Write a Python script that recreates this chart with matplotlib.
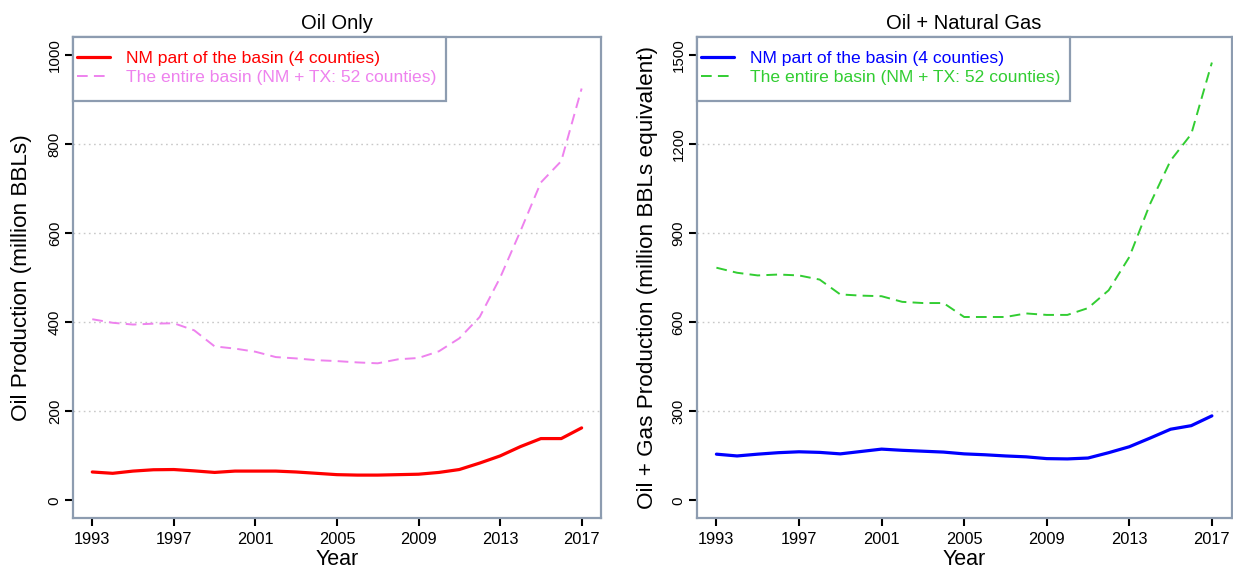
import matplotlib
matplotlib.use("Agg")
import matplotlib.pyplot as plt
import matplotlib.transforms as mtransforms
from matplotlib.patches import Rectangle

plt.rcParams['font.family'] = ['Liberation Sans', 'DejaVu Sans']

years = list(range(1993, 2018))

oil_nm = [64, 61, 66, 69, 69.5, 66.5, 63, 66, 66, 66, 64, 61, 58, 57, 57, 58, 59, 63, 69.5, 84, 100, 121, 139, 139, 163]
oil_all = [407, 399, 395, 397, 398, 382, 346, 341, 334, 322, 319, 315, 313, 310, 308, 317, 320, 335, 364, 412, 500, 605, 714, 762, 925]

og_nm = [156, 150, 156, 161, 164, 162, 157, 165, 173, 169, 166, 163, 157, 154, 150, 147, 141, 140, 143, 161, 181, 210, 240, 252, 285]
og_all = [784, 767, 758, 761, 758, 744, 694, 690, 688, 669, 665, 665, 618, 618, 618, 630, 625, 625, 648, 708, 820, 998, 1145, 1234, 1475]

xticks = [1993, 1997, 2001, 2005, 2009, 2013, 2017]
oil_yticks = [0, 200, 400, 600, 800, 1000]
og_yticks = [0, 300, 600, 900, 1200, 1500]

label_nm = "NM part of the basin (4 counties)"
label_all = "The entire basin (NM + TX: 52 counties)"

frame_col = "#8d9cb0"

W, H = 1233, 573
fig = plt.figure(figsize=(W / 100, H / 100), dpi=100)
ax1 = fig.add_axes([72.9 / W, (H - 518.3) / H, (601 - 72.9) / W, (518.3 - 37.3) / H])
ax2 = fig.add_axes([696.8 / W, (H - 518.3) / H, (1231.5 - 696.8) / W, (518.3 - 37.3) / H])

def style(ax, yticks, ylim, title, ylabel, ylab_x):
    ax.set_xlim(1992.05, 2017.95)
    ax.set_ylim(*ylim)
    ax.set_xticks(xticks)
    ax.set_yticks(yticks)
    ax.set_yticklabels([str(v) for v in yticks], rotation=90, va='center')
    for v in yticks[1:-1]:
        ax.axhline(v, color='#c8c8c8', lw=1.0, ls=(0, (1.2, 2.5)), zorder=0)
    for s in ax.spines.values():
        s.set_color(frame_col)
        s.set_linewidth(1.6)
    ax.tick_params(axis='both', direction='out', length=6, width=1.5, color='black')
    ax.tick_params(axis='x', labelsize=11.8, pad=4)
    ax.tick_params(axis='y', labelsize=10.8, pad=2)
    ax.set_title(title, fontsize=14.5, pad=6)
    ax.set_xlabel("Year", fontsize=15.5, labelpad=1)
    ax.set_ylabel(ylabel, fontsize=16.2)
    ax.yaxis.set_label_coords(ylab_x, 0.5)

def legend(ax, c1, c2):
    off = mtransforms.offset_copy(ax.transAxes, fig=fig, x=0, y=-10, units='dots')
    leg = ax.legend(loc='upper left', bbox_to_anchor=(0, 1), bbox_transform=off,
                    borderaxespad=0, fontsize=12.6, frameon=False,
                    handlelength=1.9, handletextpad=0.9, borderpad=0.22, labelspacing=0.2)
    for t, c in zip(leg.get_texts(), [c1, c2]):
        t.set_color(c)
    return leg

ax1.plot(years, oil_nm, color='#ff0000', lw=2.3, label=label_nm, solid_capstyle='round')
ax1.plot(years, oil_all, color='#ee82ee', lw=1.4, ls=(0, (5.5, 3.2)), label=label_all)
style(ax1, oil_yticks, (-40, 1040), "Oil Only", "Oil Production (million BBLs)", -0.077)
leg1 = legend(ax1, '#ff0000', '#ee82ee')

ax2.plot(years, og_nm, color='#0000ff', lw=2.3, label=label_nm, solid_capstyle='round')
ax2.plot(years, og_all, color='#32cd32', lw=1.4, ls=(0, (5.5, 3.2)), label=label_all)
style(ax2, og_yticks, (-60, 1560), "Oil + Natural Gas", "Oil + Gas Production (million BBLs equivalent)", -0.072)
leg2 = legend(ax2, '#0000ff', '#32cd32')

# legend frames: from the axes corner down to below the legend text
fig.canvas.draw()
for ax, leg in [(ax1, leg1), (ax2, leg2)]:
    ab = ax.get_window_extent()
    lb = leg.get_window_extent()
    x0, y1 = ab.x0, ab.y1
    x1 = lb.x1 + 6
    y0 = y1 - 64
    rect = Rectangle((x0, y0), x1 - x0, y1 - y0, transform=mtransforms.IdentityTransform(),
                     facecolor='white', edgecolor=frame_col, lw=1.6, zorder=4.9, clip_on=False)
    ax.add_patch(rect)

fig.savefig("out.png", dpi=100)
